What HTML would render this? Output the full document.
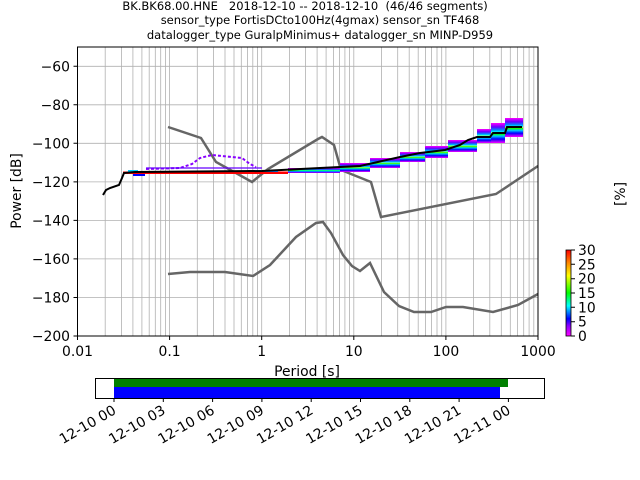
<!DOCTYPE html><html><head><style>body{margin:0;background:#fff}svg{display:block}text{font-family:"DejaVu Sans","Liberation Sans",sans-serif;fill:#000}</style></head><body>
<svg width="640" height="480" xmlns="http://www.w3.org/2000/svg">
<defs>
<linearGradient id="cb" x1="0" y1="1" x2="0" y2="0">
<stop offset="0" stop-color="#f0f"/><stop offset="0.12" stop-color="#80f"/><stop offset="0.2" stop-color="#00f"/><stop offset="0.35" stop-color="#0ff"/><stop offset="0.5" stop-color="#0f0"/><stop offset="0.7" stop-color="#ff0"/><stop offset="0.85" stop-color="#f80"/><stop offset="1" stop-color="#f00"/></linearGradient>
<linearGradient id="bd" x1="0" y1="0" x2="0" y2="1">
<stop offset="0" stop-color="#f0f"/><stop offset="0.2" stop-color="#60f"/><stop offset="0.35" stop-color="#08f"/><stop offset="0.45" stop-color="#0ff"/><stop offset="0.5" stop-color="#ff0"/><stop offset="0.55" stop-color="#0f0"/><stop offset="0.65" stop-color="#0cf"/><stop offset="0.8" stop-color="#00f"/><stop offset="1" stop-color="#f0f"/></linearGradient>
</defs>
<g font-size="11.5" text-anchor="middle">
<text x="305" y="10" xml:space="preserve">BK.BK68.00.HNE   2018-12-10 -- 2018-12-10  (46/46 segments)</text>
<text x="320" y="24">sensor_type FortisDCto100Hz(4gmax) sensor_sn TF468</text>
<text x="320" y="39">datalogger_type GuralpMinimus+ datalogger_sn MINP-D959</text>
</g>
<g stroke="#b0b0b0" stroke-width="0.8">
<path d="M105.2 47V336M121.4 47V336M132.9 47V336M141.9 47V336M149.2 47V336M155.3 47V336M160.7 47V336M165.4 47V336M169.6 47V336
M197.3 47V336M213.5 47V336M225 47V336M234 47V336M241.3 47V336M247.4 47V336M252.8 47V336M257.5 47V336M261.7 47V336
M289.4 47V336M305.6 47V336M317.1 47V336M326.1 47V336M333.4 47V336M339.5 47V336M344.9 47V336M349.6 47V336M353.8 47V336
M381.5 47V336M397.7 47V336M409.2 47V336M418.2 47V336M425.5 47V336M431.6 47V336M437 47V336M441.7 47V336M445.9 47V336
M473.6 47V336M489.8 47V336M501.3 47V336M510.3 47V336M517.6 47V336M523.7 47V336M529.1 47V336M533.8 47V336
M77.5 297.5H538M77.5 258.9H538M77.5 220.4H538M77.5 181.9H538M77.5 143.3H538M77.5 104.8H538M77.5 66.3H538"/>
</g>
<g fill="none" stroke="#666" stroke-width="2.5">
<polyline points="168,127 201,138 216,162 252,182 268,169 318,139 322,137 334,145 341,170 371,182 381,217 496,194 538,166"/>
<polyline points="168,274 190,272 225,272 253,276 270,265 296,237 316,223 323,222 331,233 343,255 352,266 360,271 370,263 384,292 399,306 414,312 431,312 446,307 463,307 493,312 518,305 538,294"/>
</g>
<!-- PDF -->
<g>
<rect x="123" y="171.5" width="165" height="2.5" fill="#f00"/>
<rect x="128" y="170" width="10" height="2" fill="#0cf"/>
<rect x="133" y="174" width="12" height="2" fill="#00f"/>
<rect x="248" y="170" width="30" height="2" fill="#08f"/>
<polyline points="146,169 180,168 192,164 200,158 212,155 222,156 232,157 242,158 250,164 256,167" fill="none" stroke="#80f" stroke-width="2" stroke-dasharray="3,2"/>
<line x1="146" y1="168" x2="262" y2="168" stroke="#60f" stroke-width="1.2"/>
<rect x="288" y="168" width="52" height="5" fill="url(#bd)"/>
<rect x="340" y="163" width="30" height="9" fill="url(#bd)"/>
<rect x="370" y="158" width="30" height="10" fill="url(#bd)"/>
<rect x="400" y="152" width="25" height="10" fill="url(#bd)"/>
<rect x="425" y="146" width="23" height="12" fill="url(#bd)"/>
<rect x="448" y="140" width="29" height="12" fill="url(#bd)"/>
<rect x="477" y="129" width="14" height="14" fill="url(#bd)"/>
<rect x="491" y="123" width="14" height="20" fill="url(#bd)"/>
<rect x="505" y="118" width="18" height="19" fill="url(#bd)"/>
</g>
<polyline fill="none" stroke="#000" stroke-width="2" points="103,195 106,190 110,188 119,185 122,178 124,173 135,172 262,171 320,168 360,166 400,157 420,153 445,150 460,145 468,140 477,137 490,137 493,133 505,133 507,127 522,127"/>
<rect x="77.5" y="47" width="460.5" height="289" fill="none" stroke="#000" stroke-width="1"/>
<g stroke="#000"><path d="M73.5 336H77.5M73.5 297.5H77.5M73.5 258.9H77.5M73.5 220.4H77.5M73.5 181.9H77.5M73.5 143.3H77.5M73.5 104.8H77.5M73.5 66.3H77.5
M77.5 336V340M169.6 336V340M261.7 336V340M353.8 336V340M445.9 336V340M538 336V340"/></g>
<g font-size="13.9" text-anchor="end">
<text x="70" y="341">−200</text><text x="70" y="302.5">−180</text><text x="70" y="263.9">−160</text><text x="70" y="225.4">−140</text><text x="70" y="186.9">−120</text><text x="70" y="148.3">−100</text><text x="70" y="109.8">−80</text><text x="70" y="71.3">−60</text>
</g>
<g font-size="13.9" text-anchor="middle">
<text x="77.5" y="356">0.01</text><text x="169.6" y="356">0.1</text><text x="261.7" y="356">1</text><text x="353.8" y="356">10</text><text x="445.9" y="356">100</text><text x="538" y="356">1000</text>
</g>
<text x="307" y="376" font-size="13.9" text-anchor="middle">Period [s]</text>
<text transform="translate(21,191) rotate(-90)" font-size="13.9" text-anchor="middle">Power [dB]</text>
<text transform="translate(625,194) rotate(-90)" font-size="13.9" text-anchor="middle">[%]</text>
<rect x="566" y="250" width="5" height="86" fill="url(#cb)" stroke="#000" stroke-width="0.8"/>
<g stroke="#000"><path d="M571 336H575M571 321.7H575M571 307.3H575M571 293H575M571 278.7H575M571 264.3H575M571 250H575"/></g>
<g font-size="13.9">
<text x="578" y="341">0</text><text x="578" y="326.7">5</text><text x="578" y="312.3">10</text><text x="578" y="298">15</text><text x="578" y="283.7">20</text><text x="578" y="269.3">25</text><text x="578" y="255">30</text>
</g>
<rect x="114" y="379" width="394" height="8" fill="#008000"/>
<rect x="114" y="387" width="386" height="11" fill="#0000ff"/>
<rect x="95.5" y="378.5" width="449" height="20" fill="none" stroke="#000"/>
<g stroke="#000"><path d="M114 398V402M163.3 398V402M212.6 398V402M261.9 398V402M311.2 398V402M360.5 398V402M409.8 398V402M459.1 398V402M508.4 398V402"/></g>
<g font-size="13.9" text-anchor="end">
<text x="117" y="413" transform="rotate(-30 117 413)">12-10 00</text>
<text x="166.3" y="413" transform="rotate(-30 166.3 413)">12-10 03</text>
<text x="215.6" y="413" transform="rotate(-30 215.6 413)">12-10 06</text>
<text x="264.9" y="413" transform="rotate(-30 264.9 413)">12-10 09</text>
<text x="314.2" y="413" transform="rotate(-30 314.2 413)">12-10 12</text>
<text x="363.5" y="413" transform="rotate(-30 363.5 413)">12-10 15</text>
<text x="412.8" y="413" transform="rotate(-30 412.8 413)">12-10 18</text>
<text x="462.1" y="413" transform="rotate(-30 462.1 413)">12-10 21</text>
<text x="511.4" y="413" transform="rotate(-30 511.4 413)">12-11 00</text>
</g>
</svg></body></html>
